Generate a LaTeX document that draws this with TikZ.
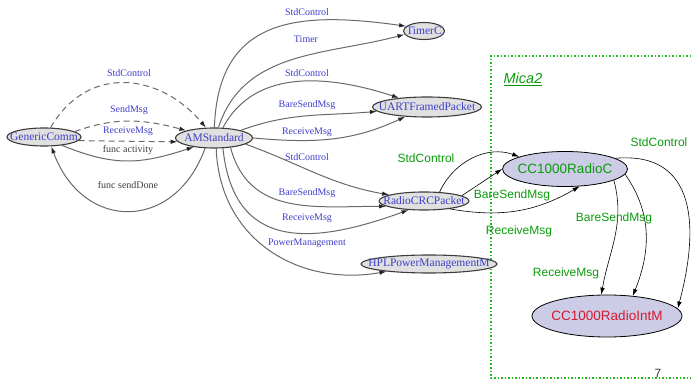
\documentclass[tikz,border=0pt]{standalone}
\usepackage{fontspec}
\setmainfont{Liberation Serif}
\newfontfamily\arialfont{Liberation Sans}
\usetikzlibrary{arrows.meta,shapes}
\definecolor{gvblue}{RGB}{62,62,200}
\definecolor{gvline}{RGB}{105,105,105}
\definecolor{gvfill}{RGB}{224,224,224}
\definecolor{gvdark}{RGB}{60,60,60}
\definecolor{micgreen}{RGB}{10,155,10}
\definecolor{micdot}{RGB}{30,190,30}
\definecolor{micfill}{RGB}{204,204,230}
\definecolor{micred}{RGB}{215,25,50}
\tikzstyle{gvnode}=[
	ellipse,
	draw=gvdark,
	line width=1.1pt,
	fill=gvfill,
	text=gvblue,
	inner xsep=-30pt,
	inner ysep=0pt,
	font=\fontsize{11.5}{12}\selectfont]
\tikzstyle{gvlbl}=[
	inner sep=0pt,
	text=gvblue,
	font=\fontsize{10}{11}\selectfont]
\tikzstyle{gvedge}=[draw=gvline, line width=1pt,
	-{Latex[length=7pt,width=4.5pt,color=black!85]}]
\tikzstyle{micnode}=[
	ellipse,
	draw=black,
	line width=0.8pt,
	fill=micfill,
	inner xsep=-40pt,
	inner ysep=0pt,
	font=\arialfont\fontsize{13.5}{15}\selectfont]
\tikzstyle{miclbl}=[
	inner sep=0pt,
	text=micgreen,
	font=\arialfont\fontsize{12}{14}\selectfont]
\tikzstyle{micedge}=[draw=black, line width=0.6pt, ->]

\begin{document}
\begin{tikzpicture}[x=1pt,y=-1pt,>={Latex[length=7pt,width=4.5pt]}]
	\useasboundingbox (0,0) rectangle (691,379);
	% Mica2 frame
	\draw[micdot,line width=1.5pt,dotted] (691,56) -- (491,56) -- (491,378) -- (691,378);
	\node[miclbl,font=\arialfont\itshape\fontsize{14.5}{16}\selectfont] (mica) at (523,79) {\underline{Mica2}};
	\node[inner sep=0pt,text=gvdark,font=\arialfont\fontsize{12}{14}\selectfont] (pageno) at (658,373) {7};

	% graphviz part
	\node[gvnode,minimum width=74,minimum height=18] (gc) at (44,137) {GenericComm};
	\node[gvnode,minimum width=77,minimum height=20] (am) at (214,138) {AMStandard};
	\node[gvnode,minimum width=41,minimum height=17] (timer) at (424,31) {TimerC};
	\node[gvnode,minimum width=109,minimum height=20] (uart) at (427,107) {UARTFramedPacket};
	\node[gvnode,minimum width=90,minimum height=18] (rcp) at (424,201) {RadioCRCPacket};
	\node[gvnode,minimum width=136,minimum height=18] (hpl) at (429,264) {HPLPowerManagementM};

	\draw[gvedge,dash pattern=on 6pt off 4pt] (gc.55) to [out=60,in=130,looseness=1.2] (am.128);
	\draw[gvedge,dash pattern=on 6pt off 4pt] (gc.10) to [out=20,in=165] (am.165);
	\draw[gvedge,dash pattern=on 6pt off 4pt] (gc.-6) -- (am.186);
	\draw[gvedge] (gc.-25) to [out=-22,in=198,looseness=1.1] (am.204);
	\draw[gvedge] (am.-131) to [out=-110,in=-70,looseness=1.5] (gc.-52);
	\node[gvlbl] (lgcstd) at (129,73) {StdControl};
	\node[gvlbl] (lgcsend) at (129,110) {SendMsg};
	\node[gvlbl] (lgcrecv) at (128,131) {ReceiveMsg};
	\node[gvlbl,text=gvdark] (lgcact) at (128,150) {func activity};
	\node[gvlbl,text=gvdark] (lgcdone) at (128,185) {func sendDone};

	\draw[gvedge] (am.88) to [out=88,in=172,looseness=1.3] (timer.165);
	\draw[gvedge] (am.67) to [out=72,in=195] (timer.190);
	\draw[gvedge] (am.49) to [out=62,in=162] (uart.162);
	\draw[gvedge] (am.16) to [out=20,in=185] (uart.185);
	\draw[gvedge] (am.east) to [out=-5,in=205] (uart.204);
	\draw[gvedge] (am.-11) to [out=-20,in=170] (rcp.170);
	\draw[gvedge] (am.-30) to [out=-75,in=180,looseness=1.1] (rcp.188);
	\draw[gvedge] (am.-49) to [out=-84,in=200,looseness=1.35] (rcp.210);
	\draw[gvedge] (am.-78) to [out=-88,in=190,looseness=1.1] (hpl.190);
	\node[gvlbl] (ltmstd) at (307,12) {StdControl};
	\node[gvlbl] (ltmtimer) at (306,39) {Timer};
	\node[gvlbl] (luastd) at (307,73) {StdControl};
	\node[gvlbl] (luasend) at (307,105) {BareSendMsg};
	\node[gvlbl] (luarecv) at (307,132) {ReceiveMsg};
	\node[gvlbl] (lrcstd) at (307,157) {StdControl};
	\node[gvlbl] (lrcsend) at (307,193) {BareSendMsg};
	\node[gvlbl] (lrcrecv) at (307,218) {ReceiveMsg};
	\node[gvlbl] (lhppm) at (307,243) {PowerManagement};

	% Mica2 part
	\node[micnode,minimum width=125,minimum height=35,text=micgreen] (cc) at (565,169) {CC1000RadioC};
	\node[micnode,minimum width=150,minimum height=42,text=micred] (intm) at (607,316) {CC1000RadioIntM};

	\draw[micedge] (rcp.30) to [out=65,in=160] (cc.165);
	\draw[micedge] (rcp.8) -- (cc.180);
	\draw[micedge] (rcp.-17) to [out=-10,in=-150] (cc.-50);
	\draw[micedge] (cc.12) to [out=5,in=75,looseness=1.3] (intm.6);
	\draw[micedge] (cc.-5) to [out=-55,in=68] (intm.38);
	\draw[micedge] (cc.-13) to [out=-75,in=80] (intm.105);
	\node[miclbl] (mstdA) at (426,158) {StdControl};
	\node[miclbl] (msendA) at (512,195) {BareSendMsg};
	\node[miclbl] (mrecvA) at (519,231) {ReceiveMsg};
	\node[miclbl] (mstdB) at (659,142) {StdControl};
	\node[miclbl] (msendB) at (614,218) {BareSendMsg};
	\node[miclbl] (mrecvB) at (566,273) {ReceiveMsg};
\end{tikzpicture}
\end{document}
